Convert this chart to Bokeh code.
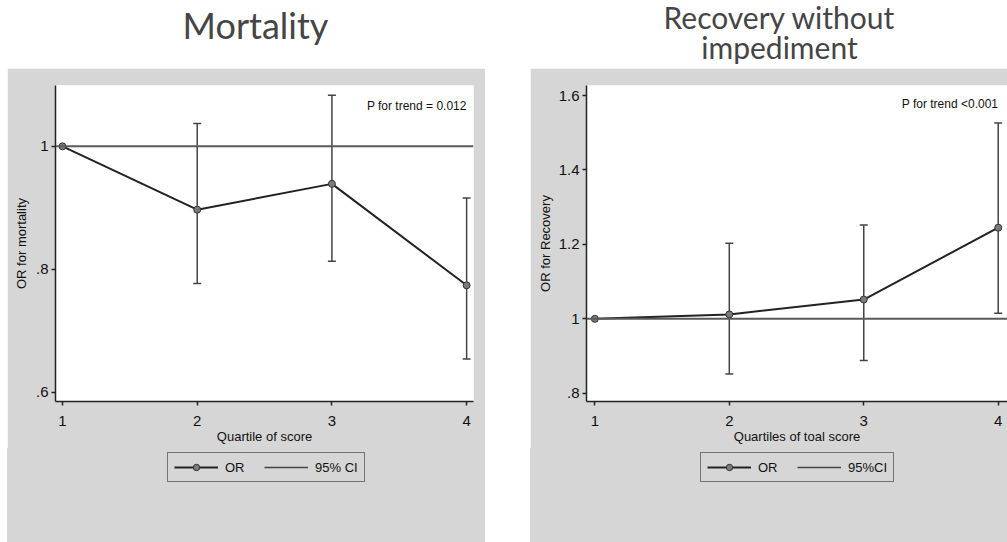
from bokeh.plotting import figure
from bokeh.layouts import row, column
from bokeh.models import Span, Label, Legend, LegendItem, Spacer, FixedTicker, Range1d
from bokeh.embed import file_html
from bokeh.resources import INLINE

# ---------------- data ----------------
quartiles = [1, 2, 3, 4]
x_tick_labels = ["1", "2", "3", "4"]
ci_quartiles = [2, 3, 4]

mort_or = [1.0, 0.897, 0.939, 0.774]
mort_lo = [0.777, 0.813, 0.654]
mort_hi = [1.037, 1.083, 0.916]
mort_ticks = [0.6, 0.8, 1.0]
mort_tick_labels = [".6", ".8", "1"]

rec_or = [1.0, 1.012, 1.052, 1.245]
rec_lo = [0.852, 0.888, 1.015]
rec_hi = [1.203, 1.252, 1.526]
rec_ticks = [0.8, 1.0, 1.2, 1.4, 1.6]
rec_tick_labels = [".8", "1", "1.2", "1.4", "1.6"]

GRAY = "#d6d6d6"
SANS = "Liberation Sans"
TITLE_FONT = "Lato"
LINE_C = "#222222"
CI_C = "#444444"


def blank(width, height, fill, transparent=False):
    f = figure(width=width, height=height, toolbar_location=None, output_backend="svg",
               min_border=0, outline_line_color=None, border_fill_color=fill,
               background_fill_color=fill, x_range=(0, 1), y_range=(0, 1))
    if transparent:
        f.border_fill_alpha = 0.0
        f.background_fill_alpha = 0.0
        f.styles = {"background-color": fill}
    f.axis.visible = False
    f.grid.visible = False
    return f


def title_fig(width, lines, size):
    """lines: list of (text, x_center_px, y_px) in frame screen units"""
    t = blank(width, 68, "white")
    for text, xc, yb in lines:
        t.add_layout(Label(x=xc, y=yb, x_units="screen", y_units="screen", text=text,
                           text_align="center", text_baseline="alphabetic",
                           text_font=TITLE_FONT, text_font_size=size,
                           text_font_style="normal", text_color="#454545"))
    return t


def legend_fig(width, or_vals, lo, hi, ci_label, lx):
    f = blank(width, 94, GRAY, transparent=True)
    ln = f.line(quartiles, or_vals, line_color=LINE_C, line_width=2, visible=False)
    pts = f.scatter(quartiles, or_vals, marker="circle", size=7, fill_color="#7a7a7a",
                    line_color="#333333", line_width=1, visible=False)
    seg = f.segment(x0=ci_quartiles, y0=lo, x1=ci_quartiles, y1=hi,
                    line_color=CI_C, line_width=1.5, visible=False)
    legend = Legend(items=[LegendItem(label="OR", renderers=[ln, pts]),
                           LegendItem(label=ci_label, renderers=[seg])],
                    orientation="horizontal", location=(lx, 60),
                    border_line_color="#111111", border_line_width=1.5,
                    background_fill_color=GRAY, background_fill_alpha=1.0,
                    inactive_fill_alpha=0.0,
                    label_text_font=SANS, label_text_font_size="13px",
                    label_text_color="#111111",
                    glyph_width=44, glyph_height=16, spacing=19, padding=6,
                    label_standoff=7, margin=0)
    f.add_layout(legend, "center")
    return f


def panel(width, border_left, border_right, xr, yr, or_vals, lo, hi, yticks, ylabels,
          ylab, xlab, ptext, ptext_y, ylab_standoff):
    p = figure(width=width, height=380, toolbar_location=None, output_backend="svg",
               x_range=Range1d(*xr), y_range=Range1d(*yr),
               min_border_left=border_left, min_border_right=border_right,
               min_border_top=17, min_border_bottom=47,
               background_fill_color="white", border_fill_color=GRAY,
               outline_line_color=None)
    p.grid.visible = False

    p.add_layout(Span(location=1.0, dimension="width", line_color="#5a5a5a", line_width=2))

    p.segment(x0=ci_quartiles, y0=lo, x1=ci_quartiles, y1=hi,
              line_color=CI_C, line_width=1.5)
    p.scatter(ci_quartiles, lo, marker="dash", size=8, line_color=CI_C, line_width=1.5)
    p.scatter(ci_quartiles, hi, marker="dash", size=8, line_color=CI_C, line_width=1.5)

    p.line(quartiles, or_vals, line_color=LINE_C, line_width=2)
    p.scatter(quartiles, or_vals, marker="circle", size=7,
              fill_color="#7a7a7a", line_color="#333333", line_width=1)

    p.xaxis.ticker = FixedTicker(ticks=quartiles)
    p.xaxis.major_label_overrides = {q: s for q, s in zip(quartiles, x_tick_labels)}
    p.yaxis.ticker = FixedTicker(ticks=yticks)
    p.yaxis.major_label_overrides = {t: s for t, s in zip(yticks, ylabels)}

    for ax in (p.xaxis, p.yaxis):
        ax.axis_line_color = "#222222"
        ax.axis_line_width = 1.5
        ax.major_tick_line_color = "#222222"
        ax.major_tick_line_width = 1.5
        ax.major_tick_in = 0
        ax.major_tick_out = 4
        ax.minor_tick_line_color = None
        ax.major_label_text_font = SANS
        ax.major_label_text_font_size = "15px"
        ax.major_label_text_color = "#111111"
        ax.axis_label_text_font_style = "normal"
        ax.axis_label_text_color = "#111111"
        ax.axis_label_text_font = SANS

    p.xaxis.axis_label = xlab
    p.xaxis.axis_label_text_font_size = "13px"
    p.xaxis.axis_label_standoff = 0
    p.xaxis.major_label_standoff = 10

    p.yaxis.axis_label = ylab
    p.yaxis.axis_label_text_font_size = "13px"
    p.yaxis.axis_label_standoff = ylab_standoff
    p.yaxis.major_label_standoff = 3

    p.add_layout(Label(x=4.0, y=ptext_y, text=ptext, text_align="right",
                       text_baseline="middle", text_font=SANS,
                       text_font_size="12px", text_color="#111111"))
    return p


# left panel: page x 7..485 (frame 55..473)
t1 = title_fig(478, [("Mortality", 200, 44)], "36px")
p1 = panel(478, 48, 12, (0.948, 4.051), (0.585, 1.099), mort_or, mort_lo, mort_hi,
           mort_ticks, mort_tick_labels, "OR for mortality", "Quartile of score",
           "P for trend = 0.012", 1.065, 4)
l1 = legend_fig(478, mort_or, mort_lo, mort_hi, "95% CI", 112)

# right panel: page x 530..1007 (frame 586..1007)
t2 = title_fig(477, [("Recovery without", 193, 52), ("impediment", 193, 22)], "30px")
p2 = panel(477, 56, 0, (0.938, 4.069), (0.778, 1.627), rec_or, rec_lo, rec_hi,
           rec_ticks, rec_tick_labels, "OR for Recovery", "Quartiles of toal score",
           "P for trend <0.001", 1.576, 3)
l2 = legend_fig(477, rec_or, rec_lo, rec_hi, "95%CI", 114)

layout = row(Spacer(width=7),
             column(t1, p1, l1, spacing=0),
             Spacer(width=45),
             column(t2, p2, l2, spacing=0),
             spacing=0)

open("out.html", "w").write(file_html(layout, INLINE))
